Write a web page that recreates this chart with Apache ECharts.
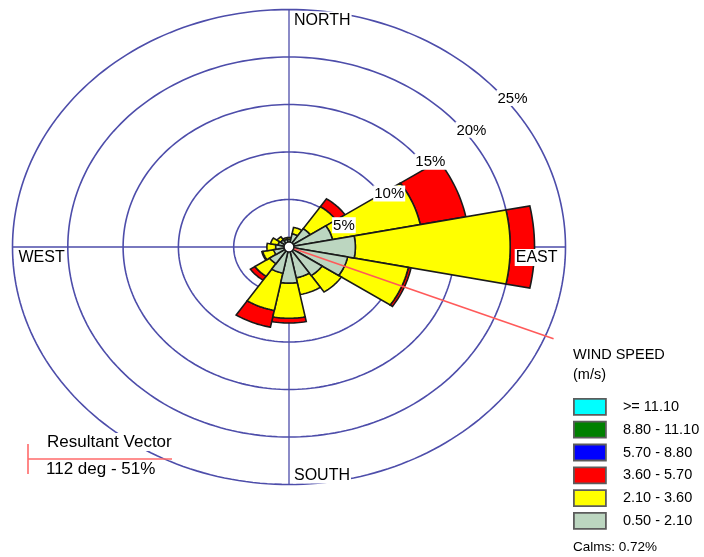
<!DOCTYPE html>
<html>
<head>
<meta charset="utf-8">
<title>Wind Rose</title>
<script src="https://cdn.jsdelivr.net/npm/echarts@6/dist/echarts.min.js"></script>
<style>
  html, body { margin: 0; padding: 0; background: #ffffff; }
  #chart { width: 704px; height: 557px; }
</style>
</head>
<body>
<div id="chart"></div>
<script>
// ---- Wind rose data (frequency in % of all hours) ----
const directions = ['N', 'NNE', 'NE', 'ENE', 'E', 'ESE', 'SE', 'SSE',
                    'S', 'SSW', 'SW', 'WSW', 'W', 'WNW', 'NW', 'NNW'];

// speed classes, listed the way the legend shows them (fastest first)
const speedBins = ['>= 11.10', '8.80 - 11.10', '5.70 - 8.80', '3.60 - 5.70', '2.10 - 3.60', '0.50 - 2.10'];
const binColors = ['#00ffff', '#008000', '#0000ff', '#ff0000', '#ffff00', '#bcd6c0'];

// frequency per direction for each speed class
const freq_ge_1110   = [0, 0, 0, 0, 0, 0, 0, 0, 0, 0, 0, 0, 0, 0, 0, 0];
const freq_880_1110  = [0, 0, 0, 0, 0, 0, 0, 0, 0, 0, 0, 0, 0, 0, 0, 0];
const freq_570_880   = [0, 0, 0, 0, 0, 0, 0, 0, 0, 0, 0, 0, 0, 0, 0, 0];
const freq_360_570   = [0, 0, 1.0, 4.2, 2.2, 0.25, 0, 0, 0.5, 1.8, 0.5, 0.1, 0, 0, 0, 0];
const freq_210_360   = [0.2, 0.7, 2.8, 8.1, 14.0, 5.6, 2.1, 1.8, 3.7, 4.0, 1.6, 1.0, 0.8, 0.7, 0.4, 0.2];
const freq_050_210   = [0.8, 1.4, 2.3, 4.0, 6.0, 5.4, 3.6, 3.3, 3.8, 2.8, 2.1, 1.4, 1.2, 1.0, 0.9, 0.8];

const calmsPct = 0.72;

// rings of the radial scale
const ringValues = [5, 10, 15, 20, 25];
const ringLabels = ['5%', '10%', '15%', '20%', '25%'];

const compassLabels = ['NORTH', 'EAST', 'SOUTH', 'WEST'];

// resultant vector
const resultantDeg = 112;
const resultantPct = 51;
const resultantLineLength = 25.8;

// ---- helpers ----
const FONT = '"Liberation Sans", Arial, Helvetica, sans-serif';
const RING_COLOR = '#4d4daa';
const SECTOR_HALF = 360 / directions.length / 2;

function polar(r, bearingDeg) {
  const a = bearingDeg * Math.PI / 180;
  return [r * Math.sin(a), r * Math.cos(a)];
}

// stacked segments: lowest speed class sits nearest the centre
const binFreqs = [freq_ge_1110, freq_880_1110, freq_570_880, freq_360_570, freq_210_360, freq_050_210];
const stackOrder = [5, 4, 3, 2, 1, 0];
const cumulative = directions.map(() => 0);
const binData = speedBins.map(() => []);
stackOrder.forEach(bi => {
  binFreqs[bi].forEach((f, d) => {
    if (f > 0) {
      binData[bi].push([d, cumulative[d], cumulative[d] + f]);
      cumulative[d] += f;
    }
  });
});

function renderPetal(params, api) {
  const d = api.value(0), r0 = api.value(1), r1 = api.value(2);
  const c = d * 360 / directions.length;
  const steps = 14;
  const pts = [];
  for (let k = 0; k <= steps; k++) {
    const b = c - SECTOR_HALF + (2 * SECTOR_HALF) * k / steps;
    pts.push(api.coord(polar(r1, b)));
  }
  if (r0 > 0) {
    for (let k = steps; k >= 0; k--) {
      const b = c - SECTOR_HALF + (2 * SECTOR_HALF) * k / steps;
      pts.push(api.coord(polar(r0, b)));
    }
  } else {
    pts.push(api.coord([0, 0]));
  }
  return {
    type: 'polygon',
    shape: { points: pts },
    style: { fill: api.visual('color'), stroke: '#1a1a1a', lineWidth: 1.6, lineJoin: 'miter' }
  };
}

const petalSeries = speedBins.map((name, i) => ({
  type: 'custom',
  name: name,
  coordinateSystem: 'cartesian2d',
  itemStyle: { color: binColors[i] },
  data: binData[i],
  encode: { x: 1, y: 2 },
  z: 3,
  silent: true,
  renderItem: renderPetal
}));

const ringSeries = {
  type: 'custom',
  coordinateSystem: 'cartesian2d',
  data: ringValues.map(v => [v, 0]),
  encode: { x: 0, y: 1 },
  z: 1,
  silent: true,
  renderItem: function (params, api) {
    const r = api.value(0);
    const pts = [];
    for (let k = 0; k < 240; k++) pts.push(api.coord(polar(r, k * 1.5)));
    return {
      type: 'polygon',
      shape: { points: pts },
      style: { fill: null, stroke: RING_COLOR, lineWidth: 1.6 }
    };
  }
};

const axisSeries = {
  type: 'custom',
  coordinateSystem: 'cartesian2d',
  data: [[0, 0], [90, 0]],
  encode: { x: 1, y: 1 },
  z: 1,
  silent: true,
  renderItem: function (params, api) {
    const b = api.value(0);
    const rMax = ringValues[ringValues.length - 1];
    const p1 = api.coord(polar(rMax, b));
    const p2 = api.coord(polar(rMax, b + 180));
    return {
      type: 'line',
      shape: { x1: p1[0], y1: p1[1], x2: p2[0], y2: p2[1] },
      style: { stroke: RING_COLOR, lineWidth: 1.3 }
    };
  }
};

const resultantSeries = {
  type: 'custom',
  coordinateSystem: 'cartesian2d',
  data: [[resultantDeg, resultantLineLength]],
  encode: { x: 1, y: 1 },
  z: 5,
  silent: true,
  renderItem: function (params, api) {
    const p0 = api.coord([0, 0]);
    const p1 = api.coord(polar(api.value(1), api.value(0)));
    return {
      type: 'line',
      shape: { x1: p0[0], y1: p0[1], x2: p1[0], y2: p1[1] },
      style: { stroke: '#ff5a5a', lineWidth: 1.6 }
    };
  }
};

const holeSeries = {
  type: 'custom',
  coordinateSystem: 'cartesian2d',
  data: [[0, 0]],
  encode: { x: 0, y: 1 },
  z: 6,
  silent: true,
  renderItem: function (params, api) {
    const p = api.coord([0, 0]);
    return {
      type: 'circle',
      shape: { cx: p[0], cy: p[1], r: 5 },
      style: { fill: '#ffffff', stroke: '#1a1a1a', lineWidth: 1.6 }
    };
  }
};

const ringLabelSeries = {
  type: 'custom',
  coordinateSystem: 'cartesian2d',
  data: ringValues.map((v, i) => [v, i]),
  encode: { x: 0, y: 0 },
  z: 8,
  silent: true,
  renderItem: function (params, api) {
    const p = api.coord(polar(api.value(0), 48));
    return {
      type: 'text',
      x: p[0] + 2,
      y: p[1] + 2,
      style: {
        text: ringLabels[api.value(1)],
        font: '15px ' + FONT,
        fill: '#000',
        align: 'left',
        verticalAlign: 'top',
        backgroundColor: '#ffffff',
        padding: [1, 1, 0, 1]
      }
    };
  }
};

const compassLayout = [
  { bearing: 0,   dx: 4,  dy: 2,  align: 'left',  vAlign: 'top' },
  { bearing: 90,  dx: -7, dy: 2,  align: 'right', vAlign: 'top' },
  { bearing: 180, dx: 4,  dy: -1, align: 'left',  vAlign: 'bottom' },
  { bearing: 270, dx: 5,  dy: 2,  align: 'left',  vAlign: 'top' }
];

const compassSeries = {
  type: 'custom',
  coordinateSystem: 'cartesian2d',
  data: compassLabels.map((t, i) => [i, 0]),
  encode: { x: 1, y: 1 },
  z: 8,
  silent: true,
  renderItem: function (params, api) {
    const i = api.value(0);
    const L = compassLayout[i];
    const p = api.coord(polar(ringValues[ringValues.length - 1], L.bearing));
    return {
      type: 'text',
      x: p[0] + L.dx,
      y: p[1] + L.dy,
      style: {
        text: compassLabels[i],
        font: '16px ' + FONT,
        fill: '#000',
        align: L.align,
        verticalAlign: L.vAlign,
        backgroundColor: '#ffffff',
        padding: [1, 1, 0, 1]
      }
    };
  }
};

const chart = echarts.init(document.getElementById('chart'), null, { renderer: 'canvas' });

chart.setOption({
  backgroundColor: '#ffffff',
  animation: false,
  grid: { left: 12.5, top: 9.5, width: 553, height: 475, containLabel: false },
  xAxis: { type: 'value', min: -25, max: 25, show: false },
  yAxis: { type: 'value', min: -25, max: 25, show: false },
  title: {
    text: 'WIND SPEED\n(m/s)',
    left: 573,
    top: 345,
    padding: 0,
    textStyle: { fontFamily: FONT, fontSize: 14.5, fontWeight: 'normal', color: '#000', lineHeight: 20 }
  },
  legend: {
    data: speedBins,
    orient: 'vertical',
    left: 573,
    top: 398,
    padding: 0,
    icon: 'rect',
    itemWidth: 32,
    itemHeight: 16,
    itemGap: 5,
    selectedMode: false,
    itemStyle: { borderColor: '#5c5c5c', borderWidth: 1.8 },
    textStyle: { fontFamily: FONT, fontSize: 14.5, color: '#000', lineHeight: 16, padding: [0, 0, 0, 12] }
  },
  graphic: [
    {
      type: 'text', left: 573, top: 540, z: 100,
      style: { text: 'Calms: ' + calmsPct.toFixed(2) + '%', font: '13.5px ' + FONT, fill: '#000' }
    },
    {
      type: 'line', z: 100,
      shape: { x1: 28, y1: 459, x2: 172, y2: 459 },
      style: { stroke: '#ff6a6a', lineWidth: 1.6 }
    },
    {
      type: 'line', z: 100,
      shape: { x1: 28, y1: 444, x2: 28, y2: 474 },
      style: { stroke: '#ff6a6a', lineWidth: 1.6 }
    },
    {
      type: 'text', x: 46, y: 442, z: 100,
      style: {
        text: 'Resultant Vector', font: '17px ' + FONT, fill: '#000',
        verticalAlign: 'middle', backgroundColor: '#ffffff', padding: [1, 1, 0, 1]
      }
    },
    {
      type: 'text', x: 46, y: 469, z: 100,
      style: {
        text: resultantDeg + ' deg - ' + resultantPct + '%', font: '17px ' + FONT, fill: '#000',
        verticalAlign: 'middle'
      }
    }
  ],
  series: [ringSeries, axisSeries].concat(petalSeries, [resultantSeries, holeSeries, ringLabelSeries, compassSeries])
});
</script>
</body>
</html>
